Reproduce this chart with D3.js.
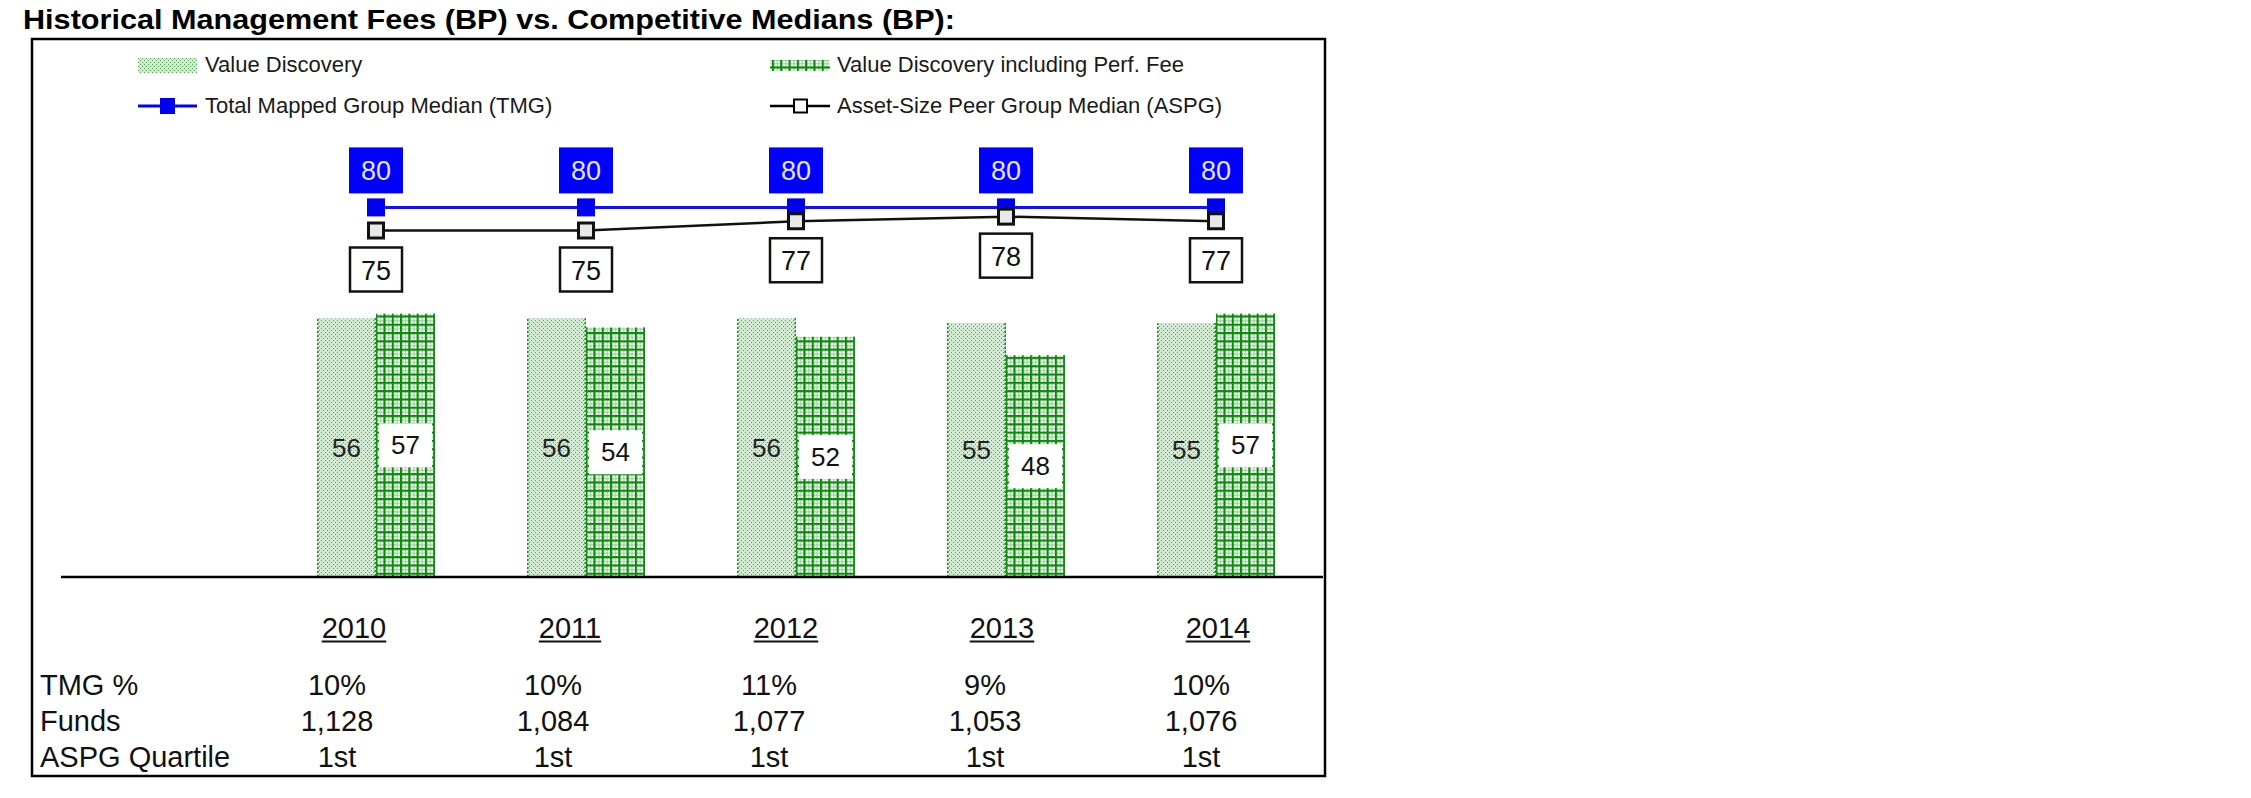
<!DOCTYPE html>
<html>
<head>
<meta charset="utf-8">
<script src="https://cdn.jsdelivr.net/npm/d3@7"></script>
<style>
  html, body { margin: 0; padding: 0; background: #fff; }
  svg { display: block; font-family: "Liberation Sans", Arial, sans-serif; }
</style>
</head>
<body>
<svg id="chart" width="2251" height="798"></svg>
<script>
// ---- data ----
const years = ["2010", "2011", "2012", "2013", "2014"];
const valueDiscovery = [56, 56, 56, 55, 55];
const valueDiscoveryPerf = [57, 54, 52, 48, 57];
const tmgMedian = [80, 80, 80, 80, 80];
const aspgMedian = [75, 75, 77, 78, 77];
const rowLabels = ["TMG %", "Funds", "ASPG Quartile"];
const tmgPct = ["10%", "10%", "11%", "9%", "10%"];
const funds = ["1,128", "1,084", "1,077", "1,053", "1,076"];
const aspgQuartile = ["1st", "1st", "1st", "1st", "1st"];
const seriesNames = ["Value Discovery", "Value Discovery including Perf. Fee"];
const lineNames = ["Total Mapped Group Median (TMG)", "Asset-Size Peer Group Median (ASPG)"];
const title = "Historical Management Fees (BP) vs. Competitive Medians (BP):";

// ---- layout ----
const svg = d3.select("#chart");
const baseY = 577;
const y = d3.scaleLinear().domain([0, 100]).range([baseY, baseY - 462]);
const x0 = d3.scaleBand().domain(years).range([271, 1321]).padding(0);
const groupW = 118;
const x1 = d3.scaleBand().domain(seriesNames).range([0, groupW]).padding(0);
const cx = d => x0(d) + x0.bandwidth() / 2;
const tableX = d3.scalePoint().domain(years).range([337, 1201]);

// ---- patterns ----
const defs = svg.append("defs");
const p1 = defs.append("pattern").attr("id", "dotted").attr("patternUnits", "userSpaceOnUse")
  .attr("width", 4).attr("height", 4);
p1.append("rect").attr("width", 4).attr("height", 4).attr("fill", "#cfe8cf");
p1.append("rect").attr("x", 0).attr("y", 0).attr("width", 1).attr("height", 1).attr("fill", "#5aaa5a");
p1.append("rect").attr("x", 2).attr("y", 2).attr("width", 1).attr("height", 1).attr("fill", "#5aaa5a");
p1.append("rect").attr("x", 2).attr("y", 0).attr("width", 1).attr("height", 1).attr("fill", "#eef7ee");

const p2 = defs.append("pattern").attr("id", "grid").attr("patternUnits", "userSpaceOnUse")
  .attr("width", 8.3).attr("height", 8.3);
p2.append("rect").attr("width", 8.3).attr("height", 8.3).attr("fill", "#ffffff");
p2.append("rect").attr("x", 5).attr("y", 0).attr("width", 1).attr("height", 8.3).attr("fill", "#8cc68c");
p2.append("rect").attr("x", 0).attr("y", 5).attr("width", 8.3).attr("height", 1).attr("fill", "#8cc68c");
p2.append("rect").attr("x", 0).attr("y", 0).attr("width", 2.2).attr("height", 8.3).attr("fill", "#0a8a0a");
p2.append("rect").attr("x", 0).attr("y", 0).attr("width", 8.3).attr("height", 2.2).attr("fill", "#0a8a0a");

// ---- title ----
svg.append("text").attr("x", 23).attr("y", 29)
  .attr("font-size", 28).attr("font-weight", "bold").attr("fill", "#000")
  .attr("textLength", 932).attr("lengthAdjust", "spacingAndGlyphs")
  .text(title);

// ---- frame ----
svg.append("rect").attr("x", 32).attr("y", 39).attr("width", 1293).attr("height", 737)
  .attr("fill", "none").attr("stroke", "#000").attr("stroke-width", 2.5);

// ---- legend ----
const leg = svg.append("g").attr("font-size", 22).attr("fill", "#1a1a1a");
const legCols = [138, 770];
// row 1 : bar swatches
leg.append("rect").attr("x", legCols[0]).attr("y", 58).attr("width", 59).attr("height", 15).attr("fill", "url(#dotted)");
leg.append("rect").attr("x", legCols[1]).attr("y", 60).attr("width", 60).attr("height", 11).attr("fill", "url(#grid)");
seriesNames.forEach((n, i) => {
  leg.append("text").attr("x", legCols[i] + 67).attr("y", 72).text(n);
});
// row 2 : line swatches
leg.append("line").attr("x1", legCols[0]).attr("x2", legCols[0] + 59).attr("y1", 106).attr("y2", 106)
  .attr("stroke", "#0000ff").attr("stroke-width", 3);
leg.append("rect").attr("x", legCols[0] + 22).attr("y", 98).attr("width", 15).attr("height", 16).attr("fill", "#0000ee");
leg.append("line").attr("x1", legCols[1]).attr("x2", legCols[1] + 60).attr("y1", 106).attr("y2", 106)
  .attr("stroke", "#000").attr("stroke-width", 2.5);
leg.append("rect").attr("x", legCols[1] + 24).attr("y", 99.5).attr("width", 13).attr("height", 13)
  .attr("fill", "#fff").attr("stroke", "#000").attr("stroke-width", 2);
lineNames.forEach((n, i) => {
  leg.append("text").attr("x", legCols[i] + 67).attr("y", 113).text(n);
});

// ---- bars ----
const groups = svg.append("g").selectAll("g").data(years).join("g")
  .attr("transform", d => `translate(${cx(d) - groupW / 2},0)`);
const barData = (d, i) => [
  { s: seriesNames[0], v: valueDiscovery[i], fill: "url(#dotted)" },
  { s: seriesNames[1], v: valueDiscoveryPerf[i], fill: "url(#grid)" }
];
groups.each(function (d, i) {
  const g = d3.select(this);
  const bd = barData(d, i);
  g.selectAll("rect.bar").data(bd).join("rect").attr("class", "bar")
    .attr("x", b => x1(b.s)).attr("width", x1.bandwidth())
    .attr("y", b => y(b.v)).attr("height", b => baseY - y(b.v))
    .attr("fill", b => b.fill);
  // dotted edges
  g.selectAll("path.edge").data(bd).join("path").attr("class", "edge")
    .attr("d", b => `M${x1(b.s) + 0.8},${baseY} V${y(b.v)} M${x1(b.s) + x1.bandwidth() - 0.8},${y(b.v)} V${baseY}`)
    .attr("stroke", "#1f8f1f").attr("stroke-width", 1.6).attr("stroke-dasharray", "2,2").attr("fill", "none");
  // label for bar 1
  const b0 = bd[0];
  g.append("text").attr("x", x1(b0.s) + x1.bandwidth() / 2).attr("y", y(b0.v / 2) + 9)
    .attr("text-anchor", "middle").attr("font-size", 26).attr("fill", "#222").text(b0.v);
  // label box for bar 2
  const b1 = bd[1];
  const my = y(b1.v / 2);
  g.append("rect").attr("x", x1(b1.s) + 3).attr("y", my - 22).attr("width", x1.bandwidth() - 6).attr("height", 44)
    .attr("fill", "#fff");
  g.append("text").attr("x", x1(b1.s) + x1.bandwidth() / 2).attr("y", my + 9)
    .attr("text-anchor", "middle").attr("font-size", 26).attr("fill", "#111").text(b1.v);
});

// ---- axis baseline ----
svg.append("line").attr("x1", 61).attr("x2", 1323).attr("y1", baseY).attr("y2", baseY)
  .attr("stroke", "#000").attr("stroke-width", 2.5);

// ---- lines ----
const lineGen = d3.line().x((d, i) => cx(years[i])).y(d => y(d));
svg.append("path").datum(aspgMedian).attr("d", lineGen)
  .attr("fill", "none").attr("stroke", "#111").attr("stroke-width", 2.5);
svg.append("path").datum(tmgMedian).attr("d", lineGen)
  .attr("fill", "none").attr("stroke", "#1010ff").attr("stroke-width", 3);

// TMG markers + labels
svg.append("g").selectAll("rect").data(tmgMedian).join("rect")
  .attr("x", (d, i) => cx(years[i]) - 9).attr("y", d => y(d) - 9)
  .attr("width", 18).attr("height", 18).attr("fill", "#0000ee");
const tl = svg.append("g").selectAll("g").data(tmgMedian).join("g");
tl.append("rect").attr("x", (d, i) => cx(years[i]) - 27).attr("y", d => y(d) - 60)
  .attr("width", 54).attr("height", 46).attr("fill", "#0000ff");
tl.append("text").attr("x", (d, i) => cx(years[i])).attr("y", d => y(d) - 27)
  .attr("text-anchor", "middle").attr("font-size", 27).attr("fill", "#e4e4ff").text(d => d);

// ASPG markers + labels
svg.append("g").selectAll("rect").data(aspgMedian).join("rect")
  .attr("x", (d, i) => cx(years[i]) - 7.5).attr("y", d => y(d) - 7.5)
  .attr("width", 15).attr("height", 15).attr("fill", "#e8e8e8").attr("stroke", "#111").attr("stroke-width", 3);
const al = svg.append("g").selectAll("g").data(aspgMedian).join("g");
al.append("rect").attr("x", (d, i) => cx(years[i]) - 26).attr("y", d => y(d) + 17)
  .attr("width", 52).attr("height", 44).attr("fill", "#fff").attr("stroke", "#111").attr("stroke-width", 2.5);
al.append("text").attr("x", (d, i) => cx(years[i])).attr("y", d => y(d) + 49)
  .attr("text-anchor", "middle").attr("font-size", 27).attr("fill", "#111").text(d => d);

// ---- table ----
const tbl = svg.append("g").attr("font-size", 29).attr("fill", "#111");
const yearTexts = tbl.selectAll("text.year").data(years).join("text").attr("class", "year")
  .attr("x", d => tableX(d) + 17).attr("y", 638).attr("text-anchor", "middle").text(d => d);
yearTexts.each(function (d) {
  const w = this.getComputedTextLength();
  tbl.append("line").attr("x1", tableX(d) + 17 - w / 2).attr("x2", tableX(d) + 17 + w / 2)
    .attr("y1", 641.5).attr("y2", 641.5).attr("stroke", "#111").attr("stroke-width", 2);
});
const rows = [tmgPct, funds, aspgQuartile];
const rowY = [695, 731, 767];
rowLabels.forEach((lab, r) => {
  tbl.append("text").attr("x", 40).attr("y", rowY[r]).text(lab);
  tbl.selectAll(null).data(rows[r]).join("text")
    .attr("x", (d, i) => tableX(years[i])).attr("y", rowY[r]).attr("text-anchor", "middle").text(d => d);
});
</script>
</body>
</html>
